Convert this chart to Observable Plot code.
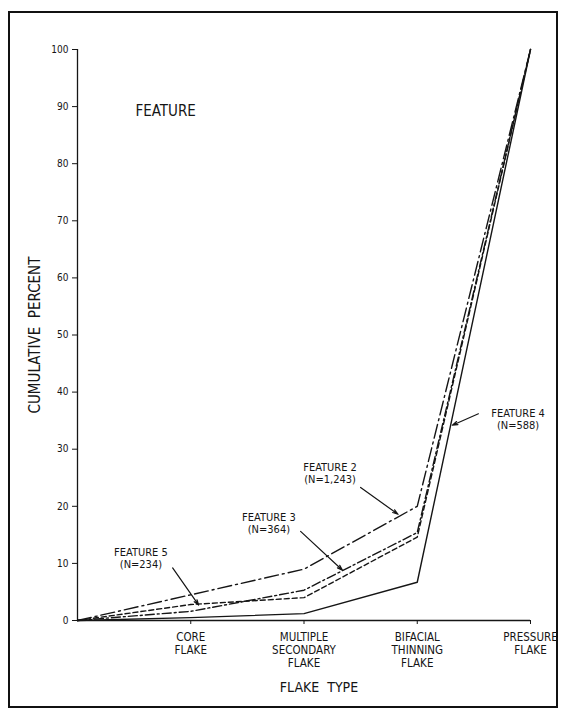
<!DOCTYPE html>
<html><head><meta charset="utf-8">
<script src="https://cdn.jsdelivr.net/npm/d3@7"></script>
<script src="https://cdn.jsdelivr.net/npm/@observablehq/plot@0.6"></script>
<style>
body{margin:0;background:#fff;}
#wrap{position:relative;width:566px;height:715px;overflow:hidden;}
#frame{position:absolute;left:8px;top:11px;width:550px;height:697px;border:2px solid #111;box-sizing:border-box;pointer-events:none}
#chart{position:absolute;left:0;top:0;}
</style></head><body><div id="wrap"><div id="chart"></div><div id="frame"></div></div>
<script>
// Flake types (x categories; index 0 is the origin)
const flakeTypes = ["", "CORE\nFLAKE", "MULTIPLE\nSECONDARY\nFLAKE", "BIFACIAL\nTHINNING\nFLAKE", "PRESSURE\nFLAKE"];
// Cumulative percent per feature
const feature2 = [0, 4.5, 9.0, 20.0, 100];
const feature3 = [0, 1.6, 5.3, 15.4, 100];
const feature4 = [0, 0.5, 1.2, 6.7, 100];
const feature5 = [0, 2.8, 4.0, 14.6, 100];
const yTicks = [0, 10, 20, 30, 40, 50, 60, 70, 80, 90, 100];
const featureNames = ["FEATURE 2", "FEATURE 3", "FEATURE 4", "FEATURE 5"];
const featureCounts = ["(N=1,243)", "(N=364)", "(N=588)", "(N=234)"];

const series = [feature2, feature3, feature4, feature5];
const dashes = ["14,4,2,4", "9,3,2,3", null, "5,3"];
const rows = series.flatMap((vals, s) => vals.map((v, i) => ({feature: featureNames[s], s, i, v})));

// label anchor placement (data units: x = flake index, y = percent)
const notes = [
  {s: 0, x: 2.23, y: 25.8, ax1: 2.50, ay1: 23.3, ax2: 2.83, ay2: 18.6},
  {s: 1, x: 1.69, y: 17.1, ax1: 1.97, ay1: 15.6, ax2: 2.34, ay2: 8.8},
  {s: 2, x: 3.89, y: 35.3, ax1: 3.54, ay1: 36.2, ax2: 3.31, ay2: 34.2},
  {s: 3, x: 0.56, y: 11.0, ax1: 0.84, ay1: 9.2, ax2: 1.07, ay2: 2.7}
];

const font = "'DejaVu Sans Condensed', 'DejaVu Sans', sans-serif";
const ink = "#151515";

const marks = [
  Plot.ruleX([0], {y1: 0, y2: 100, stroke: ink, strokeWidth: 1.3}),
  Plot.ruleY([0], {x1: 0, x2: 4, stroke: ink, strokeWidth: 1.3}),
  Plot.axisY({ticks: yTicks, tickSize: 5, tickPadding: 4, fontSize: 10, stroke: ink, color: ink, label: null}),
  Plot.axisX({ticks: [1, 2, 3, 4], tickFormat: i => flakeTypes[i], tickSize: 4, tickPadding: 8, fontSize: 11.5, lineHeight: 1.1, color: ink, label: null, textAnchor: "middle"}),
  ...series.map((vals, s) => Plot.line(rows.filter(d => d.s === s), {
    x: "i", y: "v", stroke: ink, strokeWidth: 1.4, strokeDasharray: dashes[s]
  })),
  Plot.text(notes, {x: "x", y: "y", text: d => featureNames[d.s] + "\n" + featureCounts[d.s], fontSize: 11, lineHeight: 1.1, fill: ink}),
  Plot.arrow(notes, {x1: "ax1", y1: "ay1", x2: "ax2", y2: "ay2", stroke: ink, strokeWidth: 1.2, headLength: 7, headAngle: 35}),
  Plot.text(["FEATURE"], {frameAnchor: "top-left", dx: 58, dy: 56, fontSize: 15, fill: ink, textAnchor: "start"}),
  Plot.text(["CUMULATIVE  PERCENT"], {frameAnchor: "left", dx: -42, dy: 0, rotate: -90, fontSize: 15, fill: ink, textAnchor: "middle"}),
  Plot.text(["FLAKE  TYPE"], {frameAnchor: "bottom", dx: 15, dy: 71, fontSize: 14, fill: ink})
];

const chart = Plot.plot({
  width: 566,
  height: 715,
  marginLeft: 77,
  marginRight: 36,
  marginTop: 49,
  marginBottom: 95,
  style: {fontFamily: font, background: "transparent"},
  x: {type: "linear", domain: [0, 4]},
  y: {domain: [0, 100]},
  marks
});
document.getElementById("chart").append(chart);
</script></body></html>
